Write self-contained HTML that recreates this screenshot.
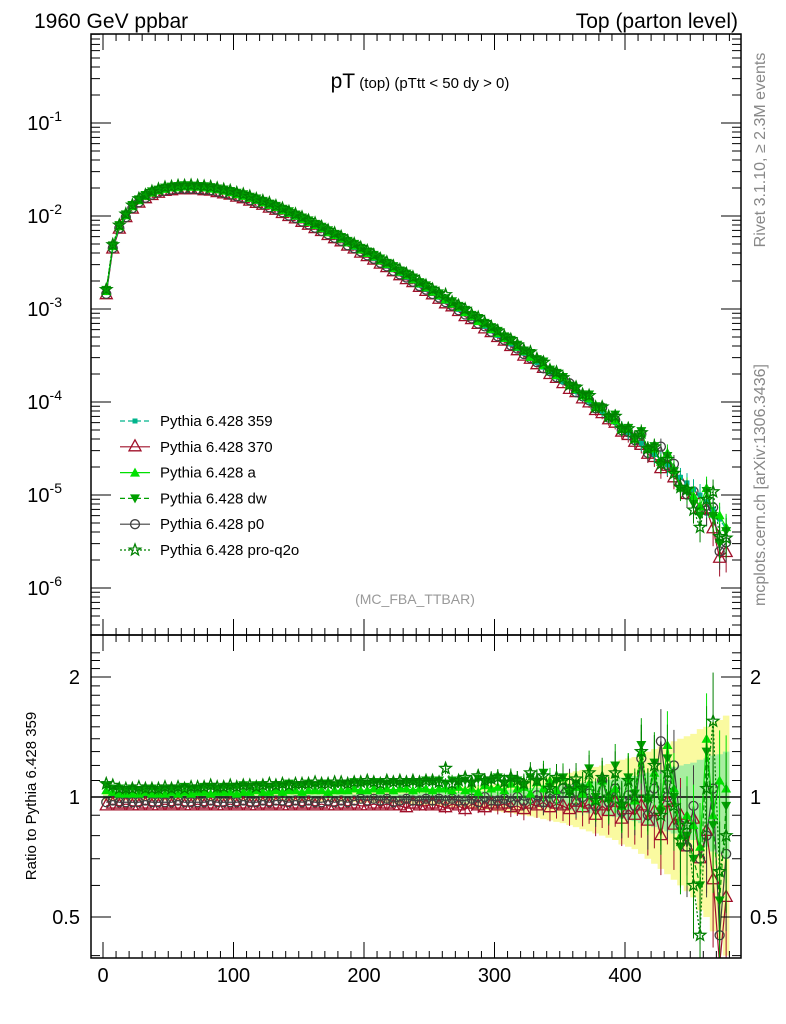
<!DOCTYPE html>
<html><head><meta charset="utf-8"><style>
html,body{margin:0;padding:0;background:#fff;}
svg{display:block;font-family:"Liberation Sans",sans-serif;}
</style></head><body>
<svg id="c" width="786" height="1024" viewBox="0 0 786 1024">
<text x="34" y="28" font-size="21">1960 GeV ppbar</text>
<text x="738" y="28" font-size="21" text-anchor="end">Top (parton level)</text>
<text x="420" y="88" text-anchor="middle"><tspan font-size="21">pT</tspan><tspan font-size="15"> (top) (pTtt &lt; 50 dy &gt; 0)</tspan></text>
<text x="415" y="604" font-size="14" fill="#999" text-anchor="middle">(MC_FBA_TTBAR)</text>
<text transform="translate(765,150) rotate(-90)" font-size="16" fill="#888" text-anchor="middle">Rivet 3.1.10, ≥ 2.3M events</text>
<text transform="translate(765,485) rotate(-90)" font-size="16" fill="#888" text-anchor="middle">mcplots.cern.ch [arXiv:1306.3436]</text>
<text transform="translate(36,796) rotate(-90)" font-size="15" text-anchor="middle">Ratio to Pythia 6.428 359</text>
<g id="main"></g><g id="ratio"></g><g id="leg"></g>
</svg>
<script>
const xs = [];
const base = [1.5e-3,4.6e-3,7.6e-3,1.0e-2,1.25e-2,1.45e-2,1.6e-2,1.75e-2,1.85e-2,1.92e-2,1.97e-2,2.0e-2,2.02e-2,2.02e-2,2.0e-2,1.97e-2,1.93e-2,1.88e-2,1.82e-2,1.75e-2,1.68e-2,1.6e-2,1.52e-2,1.44e-2,1.36e-2,1.28e-2,1.2e-2,1.12e-2,1.04e-2,9.7e-3,9.0e-3,8.3e-3,7.7e-3,7.1e-3,6.5e-3,6.0e-3,5.5e-3,5.0e-3,4.6e-3,4.2e-3,3.85e-3,3.5e-3,3.2e-3,2.9e-3,2.65e-3,2.4e-3,2.2e-3,2.0e-3,1.8e-3,1.63e-3,1.48e-3,1.34e-3,1.21e-3,1.1e-3,9.9e-4,8.9e-4,8.0e-4,7.2e-4,6.5e-4,5.8e-4,5.2e-4,4.7e-4,4.2e-4,3.75e-4,3.35e-4,3.0e-4,2.65e-4,2.37e-4,2.1e-4,1.87e-4,1.66e-4,1.47e-4,1.3e-4,1.15e-4,1.02e-4,9.0e-5,7.9e-5,7.0e-5,6.1e-5,5.4e-5,4.7e-5,4.1e-5,3.6e-5,3.15e-5,2.75e-5,2.4e-5,2.1e-5,1.8e-5,1.55e-5,1.35e-5,1.15e-5,1.0e-5,8.5e-6,7.0e-6,5.5e-6,4.3e-6];
const relErr = [0.01,0.01,0.01,0.01,0.01,0.01,0.01,0.01,0.01,0.01,0.01,0.01,0.01,0.01,0.01,0.01,0.01,0.01,0.01,0.01,0.01,0.01,0.01,0.01,0.01,0.01,0.01,0.012,0.012,0.012,0.012,0.012,0.013,0.013,0.013,0.014,0.014,0.015,0.015,0.016,0.016,0.017,0.018,0.018,0.019,0.02,0.021,0.022,0.023,0.024,0.025,0.026,0.027,0.028,0.03,0.031,0.033,0.034,0.036,0.038,0.04,0.042,0.044,0.047,0.05,0.053,0.056,0.06,0.063,0.067,0.07,0.075,0.08,0.085,0.09,0.095,0.1,0.105,0.11,0.12,0.125,0.13,0.14,0.15,0.16,0.17,0.18,0.19,0.2,0.21,0.22,0.24,0.25,0.27,0.28,0.3];
const r370 = [0.95,0.96,0.95,0.96,0.95,0.95,0.96,0.95,0.95,0.96,0.95,0.96,0.95,0.95,0.96,0.95,0.96,0.95,0.95,0.96,0.95,0.96,0.95,0.95,0.96,0.95,0.96,0.95,0.95,0.96,0.95,0.96,0.95,0.96,0.95,0.95,0.96,0.95,0.96,0.95,0.95,0.96,0.95,0.96,0.95,0.95,0.94,0.96,0.95,0.95,0.96,0.95,0.94,0.96,0.95,0.93,0.96,0.95,0.94,0.96,0.95,0.96,0.94,0.95,0.93,0.96,0.95,0.97,0.94,0.96,0.95,0.93,0.97,0.94,0.96,0.90,0.95,0.92,0.97,0.88,0.93,0.90,0.95,0.87,0.92,0.80,0.97,0.85,0.90,0.75,0.88,0.70,0.82,0.62,0.38,0.56];
const rP0 = [0.97,0.98,0.97,0.97,0.97,0.97,0.98,0.97,0.97,0.97,0.97,0.98,0.97,0.97,0.97,0.97,0.98,0.97,0.97,0.97,0.97,0.98,0.97,0.97,0.98,0.97,0.98,0.98,0.97,0.98,0.97,0.98,0.97,0.97,0.98,0.97,0.98,0.97,0.98,0.99,0.98,0.99,0.98,0.99,0.97,0.98,0.99,0.98,0.98,0.99,0.98,0.99,0.98,0.99,0.98,0.98,0.99,0.97,1.00,0.98,0.98,0.99,0.97,1.00,0.98,0.99,1.01,0.97,1.02,0.99,1.05,1.08,0.98,1.00,1.02,0.95,1.10,0.97,1.05,0.92,1.01,0.95,1.25,0.90,1.05,1.38,1.00,1.20,0.85,0.75,0.95,0.70,0.80,1.05,0.45,0.72];
const rA = [1.04,1.03,1.02,1.02,1.02,1.02,1.03,1.02,1.02,1.02,1.03,1.02,1.03,1.02,1.03,1.03,1.02,1.03,1.03,1.03,1.02,1.03,1.03,1.04,1.03,1.03,1.04,1.03,1.04,1.04,1.03,1.04,1.04,1.04,1.03,1.04,1.04,1.04,1.05,1.04,1.04,1.05,1.04,1.05,1.04,1.05,1.05,1.04,1.05,1.05,1.04,1.05,1.05,1.04,1.06,1.04,1.05,1.03,1.07,1.05,1.06,1.04,1.08,1.05,1.06,1.02,1.09,1.05,1.10,1.04,1.12,1.05,1.06,1.02,1.08,0.98,1.10,1.00,1.05,0.95,1.12,0.98,1.30,1.00,1.15,0.95,1.35,1.05,0.80,0.90,0.85,0.75,1.40,0.90,1.10,1.05];
const rDW = [1.07,1.05,1.05,1.04,1.05,1.04,1.05,1.05,1.04,1.05,1.05,1.05,1.06,1.05,1.05,1.06,1.06,1.05,1.06,1.06,1.06,1.07,1.06,1.07,1.07,1.06,1.07,1.07,1.08,1.07,1.07,1.08,1.07,1.08,1.08,1.07,1.08,1.08,1.09,1.08,1.08,1.09,1.09,1.08,1.09,1.08,1.09,1.09,1.08,1.10,1.09,1.10,1.08,1.10,1.09,1.10,1.08,1.11,1.09,1.10,1.12,1.08,1.11,1.10,1.07,1.12,1.09,1.15,1.06,1.10,1.12,1.02,1.08,1.05,1.18,1.00,1.10,0.98,1.20,0.95,1.12,1.02,1.35,0.98,1.22,0.92,1.25,1.00,0.75,0.80,0.70,0.60,1.30,0.85,0.55,0.95];
const rQ2o = [1.08,1.07,1.05,1.05,1.05,1.06,1.05,1.05,1.05,1.06,1.05,1.06,1.05,1.06,1.06,1.06,1.07,1.06,1.06,1.07,1.06,1.07,1.07,1.06,1.07,1.08,1.07,1.08,1.07,1.08,1.08,1.08,1.09,1.08,1.08,1.09,1.09,1.08,1.09,1.09,1.10,1.09,1.08,1.10,1.09,1.10,1.09,1.10,1.09,1.10,1.10,1.09,1.18,1.08,1.10,1.12,1.09,1.13,1.10,1.11,1.12,1.09,1.12,1.10,1.08,1.15,1.10,1.13,1.05,1.12,1.10,1.04,1.11,1.05,1.15,0.98,1.12,1.00,1.15,0.96,1.10,1.00,1.30,1.00,1.20,0.90,1.15,0.95,0.78,0.85,0.60,0.45,1.05,1.55,0.65,0.80];
const yTickLabels = ["10","10","10","10","10","10"];
const yTickExps = [-1,-2,-3,-4,-5,-6];
const xTicks = [0,100,200,300,400];
const rTicks = [0.5,1,2];
for (let i=0;i<base.length;i++) xs.push(2.5+5*i);

const NS="http://www.w3.org/2000/svg";
const L=91,R=741,MT=34,MB=635,RT=635,RB=958;
const X=v=>103+v*1.305;
const Y=v=>216-(Math.log10(v)+2)*93;
const YR=v=>797-Math.log10(v)*398.6;
function mk(tag,at,parent){const e=document.createElementNS(NS,tag);for(const k in at)e.setAttribute(k,at[k]);parent.appendChild(e);return e;}
const main=document.getElementById('main'),ratio=document.getElementById('ratio'),leg=document.getElementById('leg');

let up=[],dn=[],up2=[],dn2=[];
xs.forEach((x,i)=>{const e=relErr[i];up.push(`${X(x-2.5)},${YR(1+2*e)} ${X(x+2.5)},${YR(1+2*e)}`);dn.unshift(`${X(x+2.5)},${YR(Math.max(0.1,1-2*e))} ${X(x-2.5)},${YR(Math.max(0.1,1-2*e))}`);up2.push(`${X(x-2.5)},${YR(1+e)} ${X(x+2.5)},${YR(1+e)}`);dn2.unshift(`${X(x+2.5)},${YR(1-e)} ${X(x-2.5)},${YR(1-e)}`);});
const cp=mk('clipPath',{id:'rc'},ratio);mk('rect',{x:L,y:RT,width:R-L,height:RB-RT},cp);
const rg=mk('g',{'clip-path':'url(#rc)'},ratio);
let band=mk('polygon',{points:up.concat(dn).join(' '),fill:'#fafaa0'},rg);

let band2=mk('polygon',{points:up2.concat(dn2).join(' '),fill:'#a8eea0'},rg);

mk('line',{x1:L,x2:R,y1:YR(1),y2:YR(1),stroke:'#000','stroke-width':1.5},rg);

const series=[
 {name:'Pythia 6.428 359',r:null,c:'#00b48c',dash:'5,3',m:'sq'},
 {name:'Pythia 6.428 370',r:r370,c:'#a0102a',dash:'',m:'tri'},
 {name:'Pythia 6.428 a',r:rA,c:'#00e000',dash:'',m:'ftri'},
 {name:'Pythia 6.428 dw',r:rDW,c:'#00a000',dash:'5,3',m:'dtri'},
 {name:'Pythia 6.428 p0',r:rP0,c:'#404040',dash:'',m:'circ'},
 {name:'Pythia 6.428 pro-q2o',r:rQ2o,c:'#008000',dash:'2,2',m:'star'}];
function marker(t,x,y,c,g){
 if(t==='sq')return mk('rect',{x:x-2.5,y:y-2.5,width:5,height:5,fill:c},g);
 if(t==='tri')return mk('polygon',{points:`${x},${y-7} ${x-6},${y+4} ${x+6},${y+4}`,fill:'none',stroke:c,'stroke-width':1.3},g);
 if(t==='ftri')return mk('polygon',{points:`${x},${y-5} ${x-5},${y+4} ${x+5},${y+4}`,fill:c},g);
 if(t==='dtri')return mk('polygon',{points:`${x},${y+5} ${x-5},${y-4} ${x+5},${y-4}`,fill:c},g);
 if(t==='circ')return mk('circle',{cx:x,cy:y,r:4.5,fill:'none',stroke:c,'stroke-width':1.3},g);
 let p=[];for(let k=0;k<10;k++){const a=-Math.PI/2+k*Math.PI/5,rr=k%2?2.5:6;p.push(`${x+rr*Math.cos(a)},${y+rr*Math.sin(a)}`);}
 return mk('polygon',{points:p.join(' '),fill:'none',stroke:c,'stroke-width':1.3},g);
}
const order=[1,4,0,2,3,5];
order.forEach(si=>{const s=series[si];
 const gm=mk('g',{},main);
 const gr=mk('g',{},rg);
 const rv=xs.map((x,i)=>s.r?s.r[i]:1);
 const mp=xs.map((x,i)=>`${X(x)},${Y(base[i]*rv[i])}`).join(' ');
 mk('polyline',{points:mp,fill:'none',stroke:s.c,'stroke-width':1.2,'stroke-dasharray':s.dash},gm);
 xs.forEach((x,i)=>{const v=base[i]*rv[i],e=relErr[i]*1.3;
  if(e>0.05)mk('line',{x1:X(x),x2:X(x),y1:Y(v*(1+e)),y2:Y(v*Math.max(0.2,1-e)),stroke:s.c},gm);
  marker(s.m,X(x),Y(v),s.c,gm);});
 if(s.r){
  mk('polyline',{points:xs.map((x,i)=>`${X(x)},${YR(rv[i])}`).join(' '),fill:'none',stroke:s.c,'stroke-width':1.2,'stroke-dasharray':s.dash},gr);
  xs.forEach((x,i)=>{const e=relErr[i]*1.2*rv[i];
   if(e>0.02)mk('line',{x1:X(x),x2:X(x),y1:YR(rv[i]+e),y2:YR(Math.max(0.1,rv[i]-e)),stroke:s.c},gr);
   marker(s.m,X(x),YR(rv[i]),s.c,gr);});
 }
});
series.forEach((s,i)=>{const y=421+i*25.8;const g=mk('g',{},leg);
 
 mk('line',{x1:120,x2:150,y1:y,y2:y,stroke:s.c,'stroke-width':1.2,'stroke-dasharray':s.dash},g);
 marker(s.m,135,y,s.c,g);
 const t=mk('text',{x:160,y:y+5,'font-size':15},g);t.textContent=s.name;});

const ax=mk('g',{},document.getElementById('c'));

mk('rect',{x:L,y:MT,width:R-L,height:MB-MT,fill:'none',stroke:'#000','stroke-width':1.5},ax);
mk('rect',{x:L,y:RT,width:R-L,height:RB-RT,fill:'none',stroke:'#000','stroke-width':1.5},ax);
for(let v=0;v<=480;v+=10){const x=X(v),big=v%100===0,h=big?16:7;
 [[MT,1],[MB,-1],[RT,1],[RB,-1]].forEach(([y,d])=>mk('line',{x1:x,x2:x,y1:y,y2:y+d*h,stroke:'#000'},ax));}
xTicks.forEach(v=>{const t=mk('text',{x:X(v),y:982,'font-size':20,'text-anchor':'middle'},ax);t.textContent=v;
 });
for(let e=-7;e<=0;e++)for(let m=1;m<10;m++){const v=m*Math.pow(10,e),y=Y(v);if(y<MT||y>MB)continue;const h=m===1?20:9;
 mk('line',{x1:L,x2:L+h,y1:y,y2:y,stroke:'#000'},ax);mk('line',{x1:R,x2:R-h,y1:y,y2:y,stroke:'#000'},ax);}
yTickExps.forEach((e,i)=>{const y=Y(Math.pow(10,e));const t=mk('text',{x:62,y:y+7,'font-size':20,'text-anchor':'end'},ax);
 
 t.textContent=yTickLabels[i];const s=mk('tspan',{dy:-9,'font-size':14},t);s.textContent=e;});
for(let k=2;k<=23;k++){const v=k/10;const y=YR(v);if(y<RT||y>RB)continue;const big=(k===5||k===10||k===20);const h=big?20:9;
 mk('line',{x1:L,x2:L+h,y1:y,y2:y,stroke:'#000'},ax);mk('line',{x1:R,x2:R-h,y1:y,y2:y,stroke:'#000'},ax);}
rTicks.forEach(v=>{const y=YR(v)+7;
 let t=mk('text',{x:80,y:y,'font-size':20,'text-anchor':'end'},ax);t.textContent=v;
 
 t=mk('text',{x:750,y:y,'font-size':20},ax);t.textContent=v;
 });
</script>
</body></html>
